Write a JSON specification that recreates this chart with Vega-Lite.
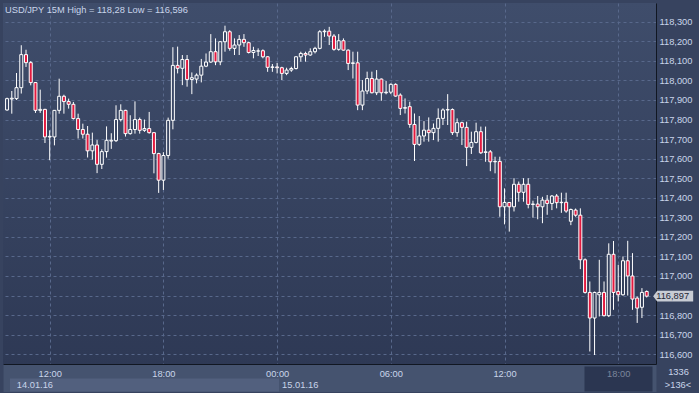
{
  "$schema": "https://vega.github.io/schema/vega-lite/v6.json",
  "autosize": "none",
  "width": 653,
  "height": 361,
  "padding": {"left": 3, "top": 3, "right": 43, "bottom": 29},
  "background": "#37435f",
  "title": {"text": "USD/JPY 15M High = 118,28 Low = 116,596", "anchor": "start", "frame": "group", "orient": "top", "offset": -19, "dx": 2, "baseline": "alphabetic", "font": "Liberation Sans", "fontSize": 9.3, "fontWeight": "normal", "color": "#c9d5ea"},
  "config": {
    "view": {"stroke": null, "fill": {"gradient": "linear", "x1": 0, "y1": 0, "x2": 0, "y2": 1, "stops": [{"offset": 0, "color": "#3f4d6b"}, {"offset": 1, "color": "#2e3955"}]}},
    "font": "Liberation Sans",
    "locale": {"number": {"decimal": ",", "thousands": ".", "grouping": [3], "currency": ["", ""]}},
    "axis": {"labelFont": "Liberation Sans", "labelFontSize": 9.3, "labelColor": "#c9d5ea", "labelFlush": false, "labelOverlap": false, "ticks": false, "domain": false, "grid": false, "title": null}
  },
  "resolve": {"axis": {"x": "independent", "y": "independent"}},
  "datasets": {
    "last": [{"t": "2016-01-15T19:30", "price": 116.897}],
    "candles": [
      {"t": "2016-01-14T09:45", "o": 117.849, "h": 117.912, "l": 117.845, "c": 117.907},
      {"t": "2016-01-14T10:00", "o": 117.905, "h": 117.946, "l": 117.830, "c": 117.909},
      {"t": "2016-01-14T10:15", "o": 117.907, "h": 118.038, "l": 117.900, "c": 117.963},
      {"t": "2016-01-14T10:30", "o": 117.963, "h": 118.180, "l": 117.933, "c": 118.132},
      {"t": "2016-01-14T10:45", "o": 118.132, "h": 118.157, "l": 118.069, "c": 118.091},
      {"t": "2016-01-14T11:00", "o": 118.091, "h": 118.099, "l": 117.975, "c": 117.989},
      {"t": "2016-01-14T11:15", "o": 117.989, "h": 117.992, "l": 117.834, "c": 117.847},
      {"t": "2016-01-14T11:30", "o": 117.847, "h": 117.953, "l": 117.834, "c": 117.852},
      {"t": "2016-01-14T11:45", "o": 117.852, "h": 117.855, "l": 117.680, "c": 117.711},
      {"t": "2016-01-14T12:00", "o": 117.711, "h": 117.745, "l": 117.592, "c": 117.714},
      {"t": "2016-01-14T12:15", "o": 117.711, "h": 117.849, "l": 117.668, "c": 117.847},
      {"t": "2016-01-14T12:30", "o": 117.847, "h": 118.009, "l": 117.830, "c": 117.919},
      {"t": "2016-01-14T12:45", "o": 117.919, "h": 117.927, "l": 117.830, "c": 117.892},
      {"t": "2016-01-14T13:00", "o": 117.892, "h": 117.907, "l": 117.856, "c": 117.878},
      {"t": "2016-01-14T13:15", "o": 117.878, "h": 117.890, "l": 117.800, "c": 117.805},
      {"t": "2016-01-14T13:30", "o": 117.805, "h": 117.830, "l": 117.703, "c": 117.749},
      {"t": "2016-01-14T13:45", "o": 117.749, "h": 117.779, "l": 117.703, "c": 117.725},
      {"t": "2016-01-14T14:00", "o": 117.725, "h": 117.767, "l": 117.606, "c": 117.640},
      {"t": "2016-01-14T14:15", "o": 117.640, "h": 117.733, "l": 117.595, "c": 117.670},
      {"t": "2016-01-14T14:30", "o": 117.670, "h": 117.695, "l": 117.526, "c": 117.571},
      {"t": "2016-01-14T14:45", "o": 117.571, "h": 117.648, "l": 117.547, "c": 117.636},
      {"t": "2016-01-14T15:00", "o": 117.636, "h": 117.765, "l": 117.605, "c": 117.694},
      {"t": "2016-01-14T15:15", "o": 117.690, "h": 117.730, "l": 117.650, "c": 117.694},
      {"t": "2016-01-14T15:30", "o": 117.692, "h": 117.873, "l": 117.685, "c": 117.800},
      {"t": "2016-01-14T15:45", "o": 117.800, "h": 117.878, "l": 117.790, "c": 117.847},
      {"t": "2016-01-14T16:00", "o": 117.847, "h": 117.850, "l": 117.713, "c": 117.728},
      {"t": "2016-01-14T16:15", "o": 117.728, "h": 117.822, "l": 117.723, "c": 117.749},
      {"t": "2016-01-14T16:30", "o": 117.749, "h": 117.893, "l": 117.728, "c": 117.800},
      {"t": "2016-01-14T16:45", "o": 117.800, "h": 117.810, "l": 117.728, "c": 117.745},
      {"t": "2016-01-14T17:00", "o": 117.745, "h": 117.800, "l": 117.737, "c": 117.754},
      {"t": "2016-01-14T17:15", "o": 117.754, "h": 117.839, "l": 117.728, "c": 117.733},
      {"t": "2016-01-14T17:30", "o": 117.733, "h": 117.735, "l": 117.525, "c": 117.626},
      {"t": "2016-01-14T17:45", "o": 117.626, "h": 117.630, "l": 117.425, "c": 117.490},
      {"t": "2016-01-14T18:00", "o": 117.490, "h": 117.633, "l": 117.440, "c": 117.616},
      {"t": "2016-01-14T18:15", "o": 117.616, "h": 117.810, "l": 117.600, "c": 117.796},
      {"t": "2016-01-14T18:30", "o": 117.796, "h": 118.170, "l": 117.750, "c": 118.077},
      {"t": "2016-01-14T18:45", "o": 118.077, "h": 118.173, "l": 118.036, "c": 118.062},
      {"t": "2016-01-14T19:00", "o": 118.062, "h": 118.130, "l": 117.976, "c": 118.107},
      {"t": "2016-01-14T19:15", "o": 118.107, "h": 118.130, "l": 117.968, "c": 118.005},
      {"t": "2016-01-14T19:30", "o": 118.005, "h": 118.041, "l": 117.930, "c": 118.014},
      {"t": "2016-01-14T19:45", "o": 118.007, "h": 118.036, "l": 117.985, "c": 118.027},
      {"t": "2016-01-14T20:00", "o": 118.027, "h": 118.110, "l": 117.990, "c": 118.073},
      {"t": "2016-01-14T20:15", "o": 118.073, "h": 118.138, "l": 118.068, "c": 118.094},
      {"t": "2016-01-14T20:30", "o": 118.094, "h": 118.237, "l": 118.090, "c": 118.147},
      {"t": "2016-01-14T20:45", "o": 118.147, "h": 118.215, "l": 118.078, "c": 118.095},
      {"t": "2016-01-14T21:00", "o": 118.095, "h": 118.200, "l": 118.078, "c": 118.198},
      {"t": "2016-01-14T21:15", "o": 118.198, "h": 118.280, "l": 118.147, "c": 118.249},
      {"t": "2016-01-14T21:30", "o": 118.249, "h": 118.257, "l": 118.152, "c": 118.164},
      {"t": "2016-01-14T21:45", "o": 118.164, "h": 118.215, "l": 118.130, "c": 118.181},
      {"t": "2016-01-14T22:00", "o": 118.181, "h": 118.232, "l": 118.130, "c": 118.210},
      {"t": "2016-01-14T22:15", "o": 118.210, "h": 118.237, "l": 118.172, "c": 118.193},
      {"t": "2016-01-14T22:30", "o": 118.193, "h": 118.198, "l": 118.138, "c": 118.143},
      {"t": "2016-01-14T22:45", "o": 118.143, "h": 118.172, "l": 118.113, "c": 118.153},
      {"t": "2016-01-14T23:00", "o": 118.150, "h": 118.164, "l": 118.125, "c": 118.151},
      {"t": "2016-01-14T23:15", "o": 118.152, "h": 118.159, "l": 118.113, "c": 118.121},
      {"t": "2016-01-14T23:30", "o": 118.121, "h": 118.124, "l": 118.044, "c": 118.067},
      {"t": "2016-01-14T23:45", "o": 118.067, "h": 118.084, "l": 118.044, "c": 118.069},
      {"t": "2016-01-15T00:00", "o": 118.069, "h": 118.090, "l": 118.036, "c": 118.065},
      {"t": "2016-01-15T00:15", "o": 118.065, "h": 118.070, "l": 118.002, "c": 118.036},
      {"t": "2016-01-15T00:30", "o": 118.036, "h": 118.065, "l": 118.027, "c": 118.053},
      {"t": "2016-01-15T00:45", "o": 118.053, "h": 118.070, "l": 118.044, "c": 118.061},
      {"t": "2016-01-15T01:00", "o": 118.061, "h": 118.124, "l": 118.056, "c": 118.121},
      {"t": "2016-01-15T01:15", "o": 118.121, "h": 118.147, "l": 118.096, "c": 118.138},
      {"t": "2016-01-15T01:30", "o": 118.138, "h": 118.147, "l": 118.096, "c": 118.130},
      {"t": "2016-01-15T01:45", "o": 118.130, "h": 118.164, "l": 118.126, "c": 118.147},
      {"t": "2016-01-15T02:00", "o": 118.147, "h": 118.172, "l": 118.138, "c": 118.164},
      {"t": "2016-01-15T02:15", "o": 118.164, "h": 118.257, "l": 118.159, "c": 118.249},
      {"t": "2016-01-15T02:30", "o": 118.249, "h": 118.261, "l": 118.223, "c": 118.252},
      {"t": "2016-01-15T02:45", "o": 118.252, "h": 118.274, "l": 118.181, "c": 118.227},
      {"t": "2016-01-15T03:00", "o": 118.227, "h": 118.237, "l": 118.152, "c": 118.159},
      {"t": "2016-01-15T03:15", "o": 118.159, "h": 118.237, "l": 118.152, "c": 118.203},
      {"t": "2016-01-15T03:30", "o": 118.203, "h": 118.215, "l": 118.152, "c": 118.155},
      {"t": "2016-01-15T03:45", "o": 118.155, "h": 118.159, "l": 118.053, "c": 118.087},
      {"t": "2016-01-15T04:00", "o": 118.087, "h": 118.147, "l": 118.010, "c": 118.090},
      {"t": "2016-01-15T04:15", "o": 118.090, "h": 118.147, "l": 117.848, "c": 117.874},
      {"t": "2016-01-15T04:30", "o": 117.874, "h": 118.002, "l": 117.848, "c": 117.946},
      {"t": "2016-01-15T04:45", "o": 117.946, "h": 118.045, "l": 117.930, "c": 118.010},
      {"t": "2016-01-15T05:00", "o": 118.010, "h": 118.045, "l": 117.934, "c": 117.937},
      {"t": "2016-01-15T05:15", "o": 117.937, "h": 118.053, "l": 117.925, "c": 118.007},
      {"t": "2016-01-15T05:30", "o": 118.007, "h": 118.010, "l": 117.896, "c": 117.937},
      {"t": "2016-01-15T05:45", "o": 117.937, "h": 117.997, "l": 117.929, "c": 117.940},
      {"t": "2016-01-15T06:00", "o": 117.940, "h": 117.985, "l": 117.930, "c": 117.980},
      {"t": "2016-01-15T06:15", "o": 117.980, "h": 117.985, "l": 117.917, "c": 117.920},
      {"t": "2016-01-15T06:30", "o": 117.925, "h": 117.934, "l": 117.823, "c": 117.857},
      {"t": "2016-01-15T06:45", "o": 117.858, "h": 117.908, "l": 117.831, "c": 117.861},
      {"t": "2016-01-15T07:00", "o": 117.866, "h": 117.891, "l": 117.758, "c": 117.775},
      {"t": "2016-01-15T07:15", "o": 117.775, "h": 117.831, "l": 117.588, "c": 117.673},
      {"t": "2016-01-15T07:30", "o": 117.673, "h": 117.818, "l": 117.665, "c": 117.716},
      {"t": "2016-01-15T07:45", "o": 117.716, "h": 117.792, "l": 117.687, "c": 117.746},
      {"t": "2016-01-15T08:00", "o": 117.746, "h": 117.811, "l": 117.687, "c": 117.733},
      {"t": "2016-01-15T08:15", "o": 117.733, "h": 117.780, "l": 117.695, "c": 117.755},
      {"t": "2016-01-15T08:30", "o": 117.755, "h": 117.857, "l": 117.687, "c": 117.806},
      {"t": "2016-01-15T08:45", "o": 117.806, "h": 117.857, "l": 117.772, "c": 117.849},
      {"t": "2016-01-15T09:00", "o": 117.849, "h": 117.930, "l": 117.772, "c": 117.851},
      {"t": "2016-01-15T09:15", "o": 117.851, "h": 117.857, "l": 117.721, "c": 117.733},
      {"t": "2016-01-15T09:30", "o": 117.733, "h": 117.806, "l": 117.712, "c": 117.784},
      {"t": "2016-01-15T09:45", "o": 117.784, "h": 117.789, "l": 117.670, "c": 117.760},
      {"t": "2016-01-15T10:00", "o": 117.760, "h": 117.789, "l": 117.562, "c": 117.658},
      {"t": "2016-01-15T10:15", "o": 117.658, "h": 117.738, "l": 117.624, "c": 117.683},
      {"t": "2016-01-15T10:30", "o": 117.683, "h": 117.784, "l": 117.678, "c": 117.738},
      {"t": "2016-01-15T10:45", "o": 117.738, "h": 117.764, "l": 117.624, "c": 117.630},
      {"t": "2016-01-15T11:00", "o": 117.632, "h": 117.764, "l": 117.584, "c": 117.635},
      {"t": "2016-01-15T11:15", "o": 117.635, "h": 117.644, "l": 117.536, "c": 117.584},
      {"t": "2016-01-15T11:30", "o": 117.584, "h": 117.610, "l": 117.525, "c": 117.586},
      {"t": "2016-01-15T11:45", "o": 117.586, "h": 117.610, "l": 117.303, "c": 117.354},
      {"t": "2016-01-15T12:00", "o": 117.354, "h": 117.448, "l": 117.264, "c": 117.376},
      {"t": "2016-01-15T12:15", "o": 117.376, "h": 117.378, "l": 117.227, "c": 117.354},
      {"t": "2016-01-15T12:30", "o": 117.354, "h": 117.500, "l": 117.330, "c": 117.469},
      {"t": "2016-01-15T12:45", "o": 117.469, "h": 117.483, "l": 117.380, "c": 117.428},
      {"t": "2016-01-15T13:00", "o": 117.428, "h": 117.500, "l": 117.380, "c": 117.469},
      {"t": "2016-01-15T13:15", "o": 117.469, "h": 117.500, "l": 117.346, "c": 117.366},
      {"t": "2016-01-15T13:30", "o": 117.366, "h": 117.385, "l": 117.298, "c": 117.368},
      {"t": "2016-01-15T13:45", "o": 117.368, "h": 117.409, "l": 117.290, "c": 117.354},
      {"t": "2016-01-15T14:00", "o": 117.354, "h": 117.405, "l": 117.270, "c": 117.388},
      {"t": "2016-01-15T14:15", "o": 117.388, "h": 117.414, "l": 117.313, "c": 117.371},
      {"t": "2016-01-15T14:30", "o": 117.371, "h": 117.414, "l": 117.337, "c": 117.409},
      {"t": "2016-01-15T14:45", "o": 117.409, "h": 117.419, "l": 117.346, "c": 117.375},
      {"t": "2016-01-15T15:00", "o": 117.375, "h": 117.426, "l": 117.323, "c": 117.377},
      {"t": "2016-01-15T15:15", "o": 117.377, "h": 117.426, "l": 117.323, "c": 117.332},
      {"t": "2016-01-15T15:30", "o": 117.280, "h": 117.345, "l": 117.260, "c": 117.340},
      {"t": "2016-01-15T15:45", "o": 117.337, "h": 117.345, "l": 117.303, "c": 117.311},
      {"t": "2016-01-15T16:00", "o": 117.311, "h": 117.346, "l": 117.035, "c": 117.083},
      {"t": "2016-01-15T16:15", "o": 117.083, "h": 117.090, "l": 116.910, "c": 116.916},
      {"t": "2016-01-15T16:30", "o": 116.916, "h": 116.972, "l": 116.614, "c": 116.785},
      {"t": "2016-01-15T16:45", "o": 116.785, "h": 116.920, "l": 116.596, "c": 116.916},
      {"t": "2016-01-15T17:00", "o": 116.904, "h": 117.083, "l": 116.793, "c": 116.916},
      {"t": "2016-01-15T17:15", "o": 116.916, "h": 116.972, "l": 116.793, "c": 116.797},
      {"t": "2016-01-15T17:30", "o": 116.797, "h": 117.167, "l": 116.790, "c": 117.111},
      {"t": "2016-01-15T17:45", "o": 117.111, "h": 117.179, "l": 116.827, "c": 116.916},
      {"t": "2016-01-15T18:00", "o": 116.921, "h": 117.057, "l": 116.870, "c": 116.904},
      {"t": "2016-01-15T18:15", "o": 116.904, "h": 117.100, "l": 116.900, "c": 117.078},
      {"t": "2016-01-15T18:30", "o": 117.078, "h": 117.180, "l": 116.900, "c": 117.000},
      {"t": "2016-01-15T18:45", "o": 117.000, "h": 117.117, "l": 116.827, "c": 116.882},
      {"t": "2016-01-15T19:00", "o": 116.887, "h": 116.895, "l": 116.760, "c": 116.836},
      {"t": "2016-01-15T19:15", "o": 116.840, "h": 116.938, "l": 116.785, "c": 116.916},
      {"t": "2016-01-15T19:30", "o": 116.921, "h": 116.926, "l": 116.890, "c": 116.897}
    ]
  },
  "layer": [
    {
      "data": {"name": "candles"},
      "mark": {"type": "rule", "color": "#ffffff", "strokeWidth": 1, "clip": true},
      "encoding": {
        "x": {"field": "t", "type": "temporal",
          "scale": {"domain": [{"year": 2016, "month": 1, "date": 14, "hours": 9, "minutes": 48}, {"year": 2016, "month": 1, "date": 15, "hours": 19, "minutes": 43, "seconds": 42}]},
          "axis": {"orient": "bottom", "grid": true, "gridColor": "#58688b", "gridDash": [3, 3], "gridWidth": 1, "labels": false, "ticks": false, "domain": false, "title": null,
            "values": [{"year": 2016, "month": 1, "date": 14, "hours": 12}, {"year": 2016, "month": 1, "date": 14, "hours": 18}, {"year": 2016, "month": 1, "date": 15, "hours": 0}, {"year": 2016, "month": 1, "date": 15, "hours": 6}, {"year": 2016, "month": 1, "date": 15, "hours": 12}, {"year": 2016, "month": 1, "date": 15, "hours": 18}]}},
        "y": {"field": "l", "type": "quantitative",
          "scale": {"domain": [116.55, 118.396], "zero": false, "nice": false},
          "axis": {"orient": "right", "values": [116.6, 116.7, 116.8, 116.9, 117.0, 117.1, 117.2, 117.3, 117.4, 117.5, 117.6, 117.7, 117.8, 117.9, 118.0, 118.1, 118.2, 118.3],
            "format": ".3f", "labelExpr": "abs(datum.value - 116.9) < 0.001 ? '' : datum.label",
            "grid": true, "gridColor": "#58688b", "gridDash": [3, 3], "domain": true, "domainColor": "#111722", "domainWidth": 1, "ticks": false,
            "labels": true, "labelPadding": 3, "labelAlign": "left", "labelBaseline": "middle",
            "title": "1336", "titleAngle": 0, "titleX": 22, "titleY": 368.5, "titleAlign": "center", "titleBaseline": "middle", "titleFont": "Liberation Sans", "titleFontSize": 9.3, "titleFontWeight": "normal", "titleColor": "#c9d5ea"}},
        "y2": {"field": "h"}
      }
    },
    {
      "data": {"name": "candles"},
      "transform": [{"filter": "datum.c >= datum.o"}],
      "mark": {"type": "bar", "size": 3, "stroke": "#ffffff", "strokeWidth": 1, "clip": true},
      "encoding": {
        "x": {"field": "t", "type": "temporal",
          "scale": {"domain": [{"year": 2016, "month": 1, "date": 14, "hours": 9, "minutes": 48}, {"year": 2016, "month": 1, "date": 15, "hours": 19, "minutes": 43, "seconds": 42}]},
          "axis": {"orient": "bottom", "offset": 13.5, "domain": true, "domainColor": "#45536f", "domainWidth": 28, "labels": false, "ticks": false, "grid": false, "title": null}},
        "y": {"field": "o", "type": "quantitative", "scale": {"domain": [116.55, 118.396], "zero": false, "nice": false}, "axis": null},
        "y2": {"field": "c"},
        "fill": {"condition": [{"test": "datum.c > 117.9", "value": "#3c4967"}, {"test": "datum.c > 117.5", "value": "#394663"}, {"test": "datum.c > 117.1", "value": "#36425f"}], "value": "#323e5a"}
      }
    },
    {
      "data": {"name": "candles"},
      "transform": [{"filter": "datum.c < datum.o"}],
      "mark": {"type": "bar", "size": 3, "stroke": "#ffffff", "strokeWidth": 1, "fill": "#e31a3f", "clip": true},
      "encoding": {
        "x": {"field": "t", "type": "temporal",
          "scale": {"domain": [{"year": 2016, "month": 1, "date": 14, "hours": 9, "minutes": 48}, {"year": 2016, "month": 1, "date": 15, "hours": 19, "minutes": 43, "seconds": 42}]},
          "axis": {"orient": "bottom", "offset": 14, "domain": false, "labels": false, "grid": false, "title": null, "ticks": true,
            "values": [{"year": 2016, "month": 1, "date": 14, "hours": 17, "minutes": 0}], "tickSize": 13, "tickWidth": 269, "tickColor": "#52607e", "tickCap": "butt"}},
        "y": {"field": "o", "type": "quantitative", "scale": {"domain": [116.55, 118.396], "zero": false, "nice": false}, "axis": null},
        "y2": {"field": "c"}
      }
    },
    {
      "data": {"name": "last"},
      "mark": {"type": "point", "shape": "M-1,0L-0.8,-0.27L1,-0.27L1,0.27L-0.8,0.27Z", "size": 1600, "filled": true, "color": "#c8ccd4", "opacity": 1, "strokeWidth": 0, "xOffset": 26.5, "clip": false},
      "encoding": {
        "x": {"field": "t", "type": "temporal",
          "scale": {"domain": [{"year": 2016, "month": 1, "date": 14, "hours": 9, "minutes": 48}, {"year": 2016, "month": 1, "date": 15, "hours": 19, "minutes": 43, "seconds": 42}]},
          "axis": {"orient": "bottom", "offset": 2, "domain": false, "grid": false, "title": null, "ticks": true, "tickSize": 25, "tickWidth": 68, "tickColor": "#2b3651", "tickCap": "butt",
            "tickOpacity": {"condition": {"test": "datum.value > datetime(2016,0,15,12)", "value": 1}, "value": 0},
            "values": [{"year": 2016, "month": 1, "date": 14, "hours": 10}, {"year": 2016, "month": 1, "date": 15, "hours": 0}, {"year": 2016, "month": 1, "date": 15, "hours": 18}],
            "labelExpr": "datum.value > datetime(2016,0,15,12) ? '' : timeFormat(datum.value, '%d.%m.%y')",
            "labelAlign": "left", "labelOffset": 4.5, "labelPadding": -4, "labelBaseline": "alphabetic"}},
        "y": {"field": "price", "type": "quantitative", "scale": {"domain": [116.55, 118.396], "zero": false, "nice": false}, "axis": null}
      }
    },
    {
      "data": {"name": "last"},
      "mark": {"type": "text", "xOffset": 26, "align": "center", "baseline": "middle", "font": "Liberation Sans", "fontSize": 9.3, "color": "#1e2636", "clip": false},
      "encoding": {
        "x": {"field": "t", "type": "temporal",
          "scale": {"domain": [{"year": 2016, "month": 1, "date": 14, "hours": 9, "minutes": 48}, {"year": 2016, "month": 1, "date": 15, "hours": 19, "minutes": 43, "seconds": 42}]},
          "axis": {"orient": "bottom", "offset": 0, "domain": true, "domainColor": "#111722", "domainWidth": 1, "ticks": false, "grid": false,
            "values": [{"year": 2016, "month": 1, "date": 14, "hours": 12}, {"year": 2016, "month": 1, "date": 14, "hours": 18}, {"year": 2016, "month": 1, "date": 15, "hours": 0}, {"year": 2016, "month": 1, "date": 15, "hours": 6}, {"year": 2016, "month": 1, "date": 15, "hours": 12}, {"year": 2016, "month": 1, "date": 15, "hours": 18}],
            "format": "%H:%M", "labelPadding": 12, "labelBaseline": "alphabetic", "labelAlign": "center",
            "labelColor": {"condition": {"test": "datum.value > datetime(2016,0,15,17)", "value": "#7b869c"}, "value": "#c9d5ea"},
            "title": ">136<", "titleX": 674.5, "titleY": 20, "titleAlign": "center", "titleBaseline": "middle", "titleAngle": 0, "titleFont": "Liberation Sans", "titleFontSize": 9.3, "titleFontWeight": "normal", "titleColor": "#c9d5ea"}},
        "y": {"field": "price", "type": "quantitative", "scale": {"domain": [116.55, 118.396], "zero": false, "nice": false}, "axis": null},
        "text": {"field": "price", "type": "quantitative", "format": ".3f"}
      }
    }
  ]
}
